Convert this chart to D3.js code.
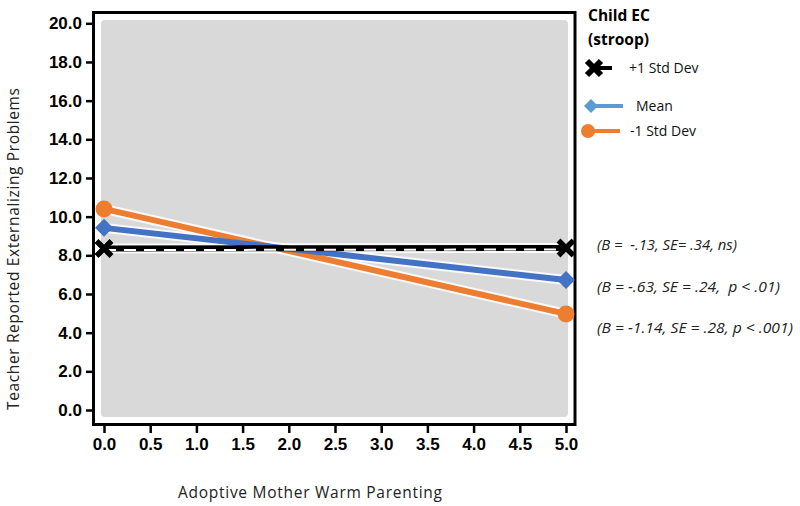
<!DOCTYPE html>
<html><head><meta charset="utf-8">
<script src="https://cdn.jsdelivr.net/npm/d3@7"></script>
<style>
html,body{margin:0;padding:0;background:#fff;}
svg{display:block;}
text{white-space:pre;}
</style></head>
<body>
<svg id="c" width="800" height="506"></svg>
<script>
const xTicks = [0,0.5,1,1.5,2,2.5,3,3.5,4,4.5,5];
const yTicks = [0,2,4,6,8,10,12,14,16,18,20];
const xValues = [0, 5];
const seriesNames = ["+1 Std Dev", "Mean", "-1 Std Dev"];
const plusSD = [8.35, 8.38];
const meanVals = [9.42, 6.72];
const minusSD = [10.4, 4.97];
const colors = ["#000000", "#4472C4", "#ED7D31"];
const legendColors = ["#000000", "#5B9BD5", "#ED7D31"];
const annotations = ["(B =  -.13, SE= .34, ns)", "(B = -.63, SE = .24,  p < .01)", "(B = -1.14, SE = .28, p < .001)"];
const xTitle = "Adoptive Mother Warm Parenting";
const yTitle = "Teacher Reported Externalizing Problems";
const legendTitle = ["Child EC", "(stroop)"];

const svg = d3.select("#c");
const x = d3.scaleLinear().domain([0,5]).range([104,566]);
const y = d3.scaleLinear().domain([0,20]).range([410,23.3]);

svg.append("rect").attr("x",101).attr("y",20).attr("width",467).attr("height",397)
  .attr("rx",4).attr("fill","#d9d9d9");
svg.append("rect").attr("x",93.5).attr("y",12.5).attr("width",481.5).attr("height",412)
  .attr("fill","none").attr("stroke","#000").attr("stroke-width",3);

const yAxis = d3.axisLeft(y).tickValues(yTicks).tickFormat(d3.format(".1f")).tickSize(7).tickSizeOuter(0);
const gy = svg.append("g").attr("transform","translate(93,0)").call(yAxis);
gy.select(".domain").remove();
gy.selectAll(".tick line").attr("stroke","#000").attr("stroke-width",2.5);
gy.selectAll(".tick text").attr("x",-11).attr("font-family","'Liberation Sans',Arial,sans-serif")
  .attr("font-weight","bold").attr("font-size",17).attr("fill","#000");

const xAxis = d3.axisBottom(x).tickValues(xTicks).tickFormat(d3.format(".1f")).tickSize(8).tickSizeOuter(0);
const gx = svg.append("g").attr("transform","translate(0,425)").call(xAxis);
gx.select(".domain").remove();
gx.selectAll(".tick line").attr("stroke","#000").attr("stroke-width",2.5);
gx.selectAll(".tick text").attr("y",13).attr("font-family","'Liberation Sans',Arial,sans-serif")
  .attr("font-weight","bold").attr("font-size",17).attr("fill","#000");

const line = d3.line().x((d,i)=>x(xValues[i])).y(d=>y(d));
const allSeries = [plusSD, meanVals, minusSD];
allSeries.forEach((s)=>{
  svg.append("path").datum(s).attr("d",line).attr("fill","none")
    .attr("stroke","#fff").attr("stroke-width",10).attr("stroke-opacity",0.85);
});
[2,1,0].forEach(k=>{
  const s = allSeries[k];
  svg.append("path").datum(s).attr("d",line).attr("fill","none")
    .attr("stroke",colors[k]).attr("stroke-width",6);
  if(k===0){
    svg.append("path").datum(s).attr("d",line).attr("fill","none")
      .attr("stroke","#fff").attr("stroke-width",2).attr("stroke-dasharray","12,8")
      .attr("transform","translate(0,1.5)");
  }
});

function drawX(g, cx, cy, s, w){
  const p = `M${-s},${-s}L${s},${s}M${s},${-s}L${-s},${s}`;
  g.append("path").attr("d",p).attr("transform",`translate(${cx},${cy})`)
   .attr("stroke","#000").attr("stroke-width",w).attr("stroke-linecap","butt").attr("fill","none");
}
function drawDiamond(g, cx, cy, s, col){
  g.append("path").attr("d",`M0,${-s}L${s},0L0,${s}L${-s},0Z`).attr("transform",`translate(${cx},${cy})`).attr("fill",col);
}
xValues.forEach((xv,i)=>{
  svg.append("circle").attr("cx",x(xv)).attr("cy",y(minusSD[i])).attr("r",8.5).attr("fill",colors[2]);
  drawDiamond(svg, x(xv), y(meanVals[i]), 9, colors[1]);
  drawX(svg, x(xv), y(plusSD[i]), 7.5, 5.5);
});

const lf = "'Open Sans',sans-serif";
svg.append("text").attr("x",310).attr("y",498).attr("text-anchor","middle")
  .attr("font-family",lf).attr("font-size",15.5).attr("fill","#222")
  .attr("textLength",264).attr("lengthAdjust","spacing").text(xTitle);
svg.append("text").attr("transform","translate(19,249) rotate(-90)").attr("text-anchor","middle")
  .attr("font-family",lf).attr("font-size",15.5).attr("fill","#222")
  .attr("textLength",322).attr("lengthAdjust","spacing").text(yTitle);

svg.append("text").attr("x",588).attr("y",21).attr("font-family",lf).attr("font-weight","bold")
  .attr("font-size",15.5).attr("fill","#000").text(legendTitle[0]);
svg.append("text").attr("x",588).attr("y",45).attr("font-family",lf).attr("font-weight","bold")
  .attr("font-size",15.5).attr("fill","#000").text(legendTitle[1]);
const legY = [68, 106, 131];
const legTextX = [629, 636, 630];
svg.append("line").attr("x1",594).attr("x2",612).attr("y1",legY[0]).attr("y2",legY[0]).attr("stroke","#000").attr("stroke-width",4);
drawX(svg, 594, legY[0], 7, 6);
svg.append("line").attr("x1",592).attr("x2",623).attr("y1",legY[1]).attr("y2",legY[1]).attr("stroke",legendColors[1]).attr("stroke-width",4);
drawDiamond(svg, 591, legY[1], 7, legendColors[1]);
svg.append("line").attr("x1",588).attr("x2",620).attr("y1",legY[2]).attr("y2",legY[2]).attr("stroke",legendColors[2]).attr("stroke-width",4);
svg.append("circle").attr("cx",588).attr("cy",legY[2]).attr("r",7).attr("fill",legendColors[2]);
seriesNames.forEach((n,i)=>{
  svg.append("text").attr("x",legTextX[i]).attr("y",legY[i]+5).attr("font-family",lf)
    .attr("font-size",14).attr("fill","#111").text(n);
});

const annY = [250, 292, 333];
const annW = [140, 183, 196];
annotations.forEach((a,i)=>{
  svg.append("text").attr("x",597).attr("y",annY[i]).attr("font-family",lf).attr("font-style","italic")
    .attr("font-size",14.5).attr("fill","#222")
    .attr("textLength",annW[i]).attr("lengthAdjust","spacingAndGlyphs").text(a);
});
</script>
</body></html>
